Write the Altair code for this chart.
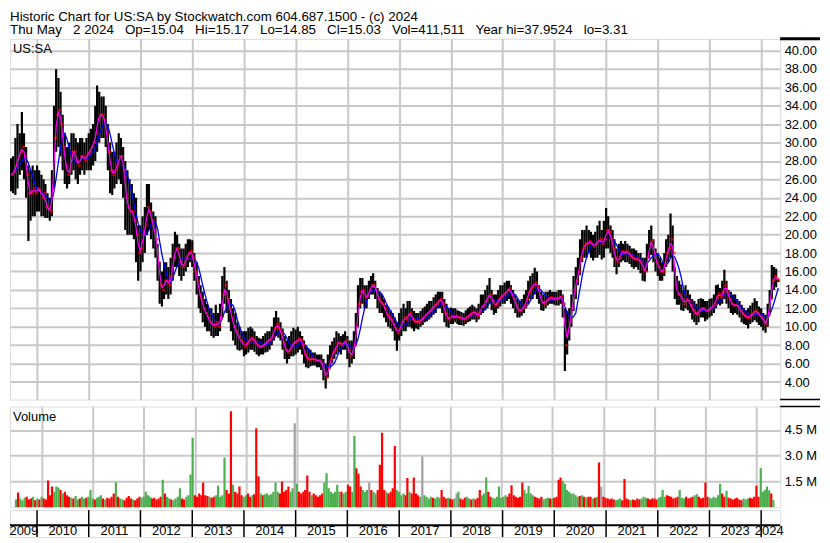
import altair as alt
import pandas as pd

FONT = "Liberation Sans"
GRID = "#c8c8c8"
GREEN = "#4cb050"
RED = "#ff0000"
GREY = "#a0a0a0"

TITLE_LINES = [
    "Historic Chart for US:SA by Stockwatch.com 604.687.1500 - (c) 2024",
    "Thu May\u00a0\u00a0 2 2024\u00a0\u00a0 Op=15.04\u00a0\u00a0 Hi=15.17\u00a0\u00a0 Lo=14.85\u00a0\u00a0 Cl=15.03\u00a0\u00a0 Vol=411,511\u00a0\u00a0 Year hi=37.9524\u00a0\u00a0 lo=3.31",
]

YEAR_GRID = list(range(2010, 2025))
PRICE_TICKS = list(range(4, 42, 2))
VOLUME_TICKS = [1.5, 3.0, 4.5]
YEAR_LABELS = [str(y) for y in range(2009, 2025)]
YEAR_LABEL_DATES = ["2009-09-30"] + [f"{y}-07-02" for y in range(2010, 2024)] + ["2024-02-27"]

# Semi-monthly bars (1st and 16th of each month), Jul 2009 .. May 2024
LOW = [
    # 2009 (Jul-Dec)
    24.7, 24.5, 24.3, 25, 26.5, 27, 26, 24, 19.3, 21.5, 22, 22,
    # 2010
    22.5, 22.5, 22, 22, 21.8, 21.8, 21.5, 22, 25, 29, 29.5, 28.5, 27, 25.5, 25, 25.5, 26.5, 27, 26, 25.5, 26.5, 27, 26.5, 27,
    # 2011
    27, 27, 27.5, 28, 29, 30, 30.5, 30.5, 29.5, 27, 24.5, 24.3, 25, 25.5, 26, 25.5, 24, 20.5, 20, 20, 20, 19.5, 17, 15,
    # 2012
    16, 17, 18, 20, 20.5, 19.5, 18.5, 17.5, 15, 12.5, 12.2, 13, 13.5, 13, 13.5, 15, 16.5, 16.5, 15.5, 15, 15.5, 16, 16.5, 17,
    # 2013
    16.5, 15, 13.5, 12, 11.5, 10.5, 10, 9.5, 9.5, 9, 8.8, 9, 9, 9.5, 11, 12.5, 11.5, 10.5, 9.5, 8.5, 8, 7.5, 7.4, 7.5,
    # 2014
    6.8, 7, 7.2, 7.5, 7.5, 7.3, 7, 6.8, 7, 7, 7.2, 7.3, 7.5, 8, 8.5, 9, 8.8, 8.5, 7.5, 6.5, 6, 6.5, 6.8, 6.8,
    # 2015
    7, 7.2, 7.5, 7, 6, 5.6, 5.5, 5.7, 5.8, 5.8, 5.6, 5.6, 5.3, 4.2, 3.31, 4.5, 5.5, 6, 6.5, 7, 7.3, 7, 7.5, 7.5,
    # 2016
    6.5, 5.6, 6, 6.5, 8, 10, 12, 12.5, 12, 12, 13, 13.5, 13.5, 13, 12, 11.5, 11.5, 11, 10.5, 10, 9.8, 9.5, 8.5, 7.4,
    # 2017
    8.5, 9, 9.5, 9.5, 10, 10, 9.8, 9.5, 9.8, 9.7, 10, 10.2, 10.5, 10.6, 10.8, 11, 11.3, 11.5, 12, 12, 11.5, 10.5, 10, 9.9,
    # 2018
    10.3, 10.3, 10.5, 10.3, 10.2, 10.2, 10.1, 10.3, 10.5, 10.6, 10.8, 10.8, 10.5, 10.8, 11.3, 11.5, 11.8, 12, 12.5, 11.8, 11.3, 11.5, 12, 12.2,
    # 2019
    12.5, 12.5, 12.8, 13, 12.5, 12, 11.5, 11, 11, 11.2, 11.5, 12, 12.5, 13, 13, 13.5, 13, 12.5, 11.8, 11.7, 12, 12.3, 12.5, 12.5,
    # 2020
    12.4, 12.3, 12.3, 12.5, 11, 5.2, 7, 8.5, 10, 11.7, 13, 14.5, 15.6, 17, 17.5, 17.5, 18, 17.5, 17.2, 17.5, 17.5, 17.8, 17.3, 17.5,
    # 2021
    18.5, 18.5, 18, 17.5, 16.5, 15.7, 16.5, 17, 17.2, 17, 17, 16.8, 16.5, 16.3, 16.5, 16.2, 15.8, 15, 14.9, 16, 17.5, 17.8, 17, 16,
    # 2022
    15.5, 15, 15, 15.5, 16.5, 17, 17.5, 16, 13, 12.4, 12.4, 11.8, 11.7, 12, 11.8, 11.5, 10.8, 10.5, 10.2, 10.5, 11, 11, 10.6, 10.8,
    # 2023
    11, 11.2, 11.5, 12, 12.5, 12.3, 12.5, 13, 12.5, 12, 11.5, 11.3, 11.5, 11.3, 11, 10.5, 10.3, 10.2, 9.8, 10.3, 10.5, 10.7, 10.5, 10.2,
    # 2024 (Jan-May)
    10, 9.6, 9.35, 10, 11.5, 13, 14, 14.3, 14.85,
]

HIGH = [
    # 2009
    28.3, 28.5, 30.5, 32, 31, 33.3, 31, 29.5, 27.5, 27, 27.5, 27,
    # 2010
    27.5, 27, 26.5, 26, 25.5, 24.5, 24, 27, 34, 37.95, 37, 35.5, 33, 31, 29.5, 30, 31, 31, 30.5, 30, 30.5, 30.5, 30, 30.5,
    # 2011
    31, 31.5, 32, 34, 36.2, 35.5, 35, 35, 34, 32, 30, 29, 29, 30, 31, 30.5, 29.5, 28, 27, 26, 25.5, 24.5, 24, 21,
    # 2012
    21, 22, 23, 25.5, 25.5, 23.5, 22.5, 22, 19, 17, 16, 17, 17, 16.5, 17.5, 19, 20.3, 20, 19, 18.5, 18.5, 19, 19.5, 19.5,
    # 2013
    19.4, 18, 17, 15.5, 14.5, 13.8, 13, 12.5, 12, 12, 11.5, 12.4, 11.5, 12.5, 15.5, 16.5, 15, 14, 13, 12, 11.5, 10.5, 10, 9.5,
    # 2014
    9.5, 9.5, 9.9, 10, 9.8, 9.5, 9, 8.8, 8.7, 9, 9.3, 9.5, 9.5, 10, 11, 11.7, 11, 10.5, 9.8, 9, 8.5, 9, 9.5, 9.9,
    # 2015
    9.7, 10, 9.5, 9, 8.5, 8, 7.7, 7.5, 7.2, 7.2, 7, 7, 7, 6.5, 6, 7, 8, 8.4, 8.8, 9.5, 9.3, 9, 9.2, 9.5,
    # 2016
    9, 8.5, 8.5, 9.5, 11.5, 14.5, 15.3, 15.3, 14.5, 14.5, 15, 15.5, 15.8, 15, 14.2, 13.8, 13.5, 13, 12.4, 12.2, 11.8, 11.5, 11, 10.5,
    # 2017
    11.5, 12, 12.5, 12, 12.8, 12.8, 12, 11.7, 11.5, 11.5, 11.7, 12, 12.2, 12.5, 12.8, 12.8, 13.2, 13.5, 13.8, 13.8, 13.8, 13, 12.5, 12,
    # 2018
    12.1, 12, 12, 11.8, 11.7, 11.6, 11.5, 11.8, 12, 12.2, 12.4, 12.2, 12, 12.5, 13.5, 13.5, 14, 14.5, 15.3, 14, 13.5, 13.5, 14, 14.5,
    # 2019
    14.5, 14.8, 15, 15, 14.5, 14, 13.5, 13, 12.8, 13, 13.5, 14, 15, 15.5, 15.8, 16.4, 16, 14.5, 13.8, 13.5, 13.8, 13.8, 14, 13.8,
    # 2020
    13.8, 13.8, 14, 14, 13.5, 12, 11.7, 12, 13.5, 15.5, 16.5, 17.5, 19.5, 20.5, 20.5, 21, 20.5, 20.3, 20, 20.3, 21, 21.5, 20.5, 21.5,
    # 2021
    22.9, 22, 21, 20.5, 19.5, 18.5, 19, 19.3, 19, 19.3, 19, 18.8, 18.5, 18.5, 18.3, 18, 18, 17.5, 17.5, 19, 20.5, 21, 19.5, 18.5,
    # 2022
    18, 17.5, 17, 18, 19.5, 20, 22.3, 21, 16.5, 15.5, 15, 14.6, 14, 14.5, 14, 13.5, 13, 12.8, 12.5, 13, 13.1, 13, 12.8, 12.8,
    # 2023
    13, 13.1, 13.5, 14.5, 14.6, 14.2, 15, 16.2, 15, 14, 13.8, 13.5, 13.5, 13, 12.8, 12.4, 12, 11.8, 12, 12.3, 12.6, 13.1, 12.8, 12.2,
    # 2024
    12, 11.5, 11.3, 12.5, 14, 16.7, 16.5, 16.3, 15.17,
]

CLOSE = [
    # 2009
    26.5, 26.8, 27.5, 28.5, 29, 29.5, 28.5, 26.5, 24.5, 24.5, 25, 24.5,
    # 2010
    25, 24.8, 24, 24.5, 23, 22.8, 22.5, 25, 30.5, 33, 33.5, 32, 29.5, 27.5, 26.5, 27, 29, 29, 28, 27.5, 28.5, 28.5, 28, 28.7,
    # 2011
    29, 29.5, 30, 31, 32.5, 33, 33, 32.5, 31, 29, 27, 26.5, 27, 27.5, 28.5, 28.5, 27, 24, 23, 22.5, 22.5, 21.5, 20, 18,
    # 2012
    18.5, 20, 21, 23, 22.5, 21.5, 20.5, 19.5, 17, 14.5, 14, 15, 15, 14.5, 15.5, 17.5, 18.5, 18.5, 17, 16.5, 16.8, 17.5, 18, 18.2,
    # 2013
    17.5, 16, 15, 13.5, 13, 12, 11.5, 11, 10.5, 10.3, 10, 10.5, 10, 11, 13.5, 14.5, 13, 12, 11, 10, 9.5, 9, 8.5, 8.3,
    # 2014
    7.8, 8.2, 8.5, 8.8, 8.6, 8.3, 8, 7.8, 7.9, 8, 8.3, 8.5, 8.6, 9, 9.8, 10.3, 9.8, 9.3, 8.3, 7.5, 7.2, 7.5, 8, 8.3,
    # 2015
    8.4, 8.7, 8.6, 8, 7, 6.6, 6.4, 6.5, 6.5, 6.4, 6.3, 6.3, 6, 5, 4.5, 5.5, 6.5, 7.2, 7.5, 8.2, 8.3, 8, 8.3, 8.5,
    # 2016
    7.5, 6.8, 7.2, 8, 10, 12.5, 13.8, 14, 13.2, 13.3, 14, 14.5, 14.5, 14, 13, 12.7, 12.5, 12, 11.3, 11, 10.8, 10.3, 9.8, 9.3,
    # 2017
    9.8, 10.5, 11, 10.8, 11.3, 11.5, 10.8, 10.5, 10.6, 10.5, 10.8, 11, 11.3, 11.5, 11.7, 12, 12.3, 12.5, 12.8, 13, 12.5, 11.5, 11, 10.8,
    # 2018
    11.2, 11, 11.2, 11, 11, 10.9, 10.8, 11, 11.2, 11.4, 11.6, 11.5, 11.2, 11.5, 12.2, 12.3, 12.8, 13.3, 13.5, 12.8, 12.3, 12.5, 13, 13.2,
    # 2019
    13.5, 13.7, 14, 14.2, 13.5, 13, 12.3, 11.8, 11.7, 12, 12.3, 13, 13.8, 14.2, 14.5, 14.8, 14.3, 13.3, 12.6, 12.5, 12.8, 13, 13.2, 13,
    # 2020
    13.1, 13, 13.2, 13.3, 12.5, 8, 9.5, 10.5, 12, 14, 15, 16, 17.5, 18.5, 19, 19, 19.3, 19, 18.7, 19, 19.3, 19.5, 19, 19.5,
    # 2021
    20.5, 20.3, 19.5, 18.5, 17.5, 17, 17.5, 18.2, 18, 18.2, 18, 17.7, 17.5, 17.3, 17.4, 17.2, 17, 16.2, 16, 17.5, 19, 19.3, 18, 17,
    # 2022
    16.5, 16, 16, 16.8, 18, 18.5, 19.5, 18, 14.5, 13.5, 13.5, 13, 12.5, 13, 12.8, 12.3, 11.8, 11.5, 11.3, 11.8, 12, 12, 11.7, 11.8,
    # 2023
    12, 12.2, 12.5, 13.2, 13.6, 13.2, 13.8, 14.5, 13.8, 13, 12.5, 12.3, 12.4, 12.2, 11.8, 11.4, 11.2, 11, 11, 11.3, 11.5, 11.8, 11.5, 11.2,
    # 2024
    11, 10.5, 10.3, 11.5, 13, 15, 15.5, 15.2, 15.03,
]

# Volume in millions of shares (largest day in each half-month)
VOLUME = [
    # 2009
    0.45, 0.85, 0.5, 0.4, 0.55, 0.6, 0.45, 0.5, 0.6, 0.4, 0.5, 0.45,
    # 2010
    0.6, 0.5, 0.45, 1.55, 0.7, 1.2, 0.9, 1.2, 1.15, 1.0, 0.8, 0.9, 0.7, 0.6, 0.55, 0.5, 0.65, 0.45, 0.5, 0.6, 0.5, 0.55, 0.6, 1.0,
    # 2011
    0.5, 0.45, 0.55, 0.6, 0.7, 0.5, 0.45, 0.55, 0.5, 0.6, 0.8, 1.45, 0.6, 0.5, 0.45, 0.4, 0.55, 0.65, 0.5, 0.45, 0.4, 0.5, 0.6, 0.55,
    # 2012
    0.6, 0.9, 0.7, 0.6, 0.5, 0.55, 0.45, 0.5, 0.6, 1.6, 0.8, 0.6, 0.5, 0.45, 0.4, 0.5, 0.6, 1.1, 0.5, 0.45, 0.6, 0.7, 1.9, 4.05,
    # 2013
    0.7, 0.6, 0.8, 0.7, 1.44, 0.7, 0.65, 0.6, 0.55, 0.6, 0.7, 1.25, 0.6, 0.7, 2.9, 1.0, 0.8, 5.6, 1.3, 0.9, 0.8, 1.2, 0.7, 0.6,
    # 2014
    0.7, 0.8, 0.6, 0.7, 0.75, 4.6, 1.8, 0.8, 0.7, 0.75, 0.8, 0.7, 0.75, 0.9, 1.44, 0.9, 0.8, 1.5, 0.9, 1.0, 1.2, 0.9, 1.1, 4.9,
    # 2015
    1.36, 0.9, 0.8, 0.9, 1.0, 1.85, 0.9, 0.7, 0.8, 0.7, 0.6, 0.7, 0.8, 1.44, 1.98, 1.1, 0.9, 0.8, 0.9, 1.3, 0.9, 0.9, 0.8, 0.9,
    # 2016
    1.3, 1.2, 0.9, 4.15, 2.27, 1.95, 1.2, 1.0, 0.9, 1.0, 1.44, 1.0, 0.9, 0.8, 1.0, 2.47, 4.34, 1.0, 0.9, 0.8, 0.9, 1.1, 3.57, 1.0,
    # 2017
    0.9, 0.7, 0.8, 0.7, 1.7, 0.9, 0.8, 1.73, 0.8, 0.7, 0.6, 2.95, 0.7, 0.6, 0.5, 0.6, 0.55, 0.5, 0.6, 0.55, 1.0, 0.6, 0.5, 0.55,
    # 2018
    0.5, 0.45, 0.5, 0.8, 0.9, 0.5, 0.45, 0.55, 0.6, 0.5, 0.45, 0.5, 0.45, 0.55, 1.0, 0.7, 0.8, 1.73, 0.9, 0.6, 0.55, 0.5, 0.6, 1.2,
    # 2019
    0.55, 0.6, 0.7, 0.6, 0.8, 1.27, 0.7, 0.6, 0.55, 0.6, 1.44, 1.0, 0.8, 1.24, 0.8, 0.7, 0.6, 0.55, 0.5, 0.6, 0.45, 0.5, 0.55, 0.5,
    # 2020
    0.5, 0.55, 0.6, 1.6, 1.73, 1.54, 1.36, 1.0, 0.9, 0.8, 0.8, 0.7, 0.6, 0.65, 0.7, 0.6, 0.55, 0.6, 0.6, 0.5, 0.55, 0.6, 2.6, 1.2,
    # 2021
    0.6, 0.55, 0.5, 0.45, 0.5, 0.45, 0.4, 0.45, 0.5, 0.4, 1.64, 0.5, 0.45, 0.4, 0.45, 0.4, 0.5, 0.45, 0.5, 0.6, 0.55, 0.5, 0.45, 0.5,
    # 2022
    0.5, 0.45, 0.55, 0.6, 1.0, 0.6, 0.7, 0.65, 0.6, 0.5, 0.55, 0.6, 1.0, 0.55, 0.5, 0.6, 0.5, 0.55, 0.6, 0.7, 0.75, 0.6, 0.5, 0.55,
    # 2023
    1.44, 0.6, 0.55, 0.5, 0.6, 0.55, 0.7, 1.36, 0.8, 0.6, 0.96, 0.55, 0.5, 0.45, 0.5, 0.55, 0.45, 0.4, 0.5, 0.45, 0.5, 0.55, 0.5, 0.6,
    # 2024
    1.25, 0.6, 2.27, 0.9, 1.0, 1.2, 0.98, 0.8, 0.41,
]

# g = up, r = down, n = unchanged
VOLUME_DIR = list(
    "grgggrrrgrgr"
    "grrrrrgggrgrrrgrggrggrgg"
    "grgggrgrrrrgrggrrrrgrrrg"
    "ggggrrrrrgrggrggggrrgggg"
    "rrrrrrrgrrgggggrrrgrrrrg"
    "grrgrrrgrgggggggrrrrrggn"
    "grrrrrrgrrrrrggggggggrgg"
    "rrggrrrgggnrggrrrrgrrrrg"
    "gggrrgrrrrgnggggrgggrrrg"
    "rrgngrrrggrgrrrgggrrgggg"
    "gggrrrrrrrrgggggrrrrgggr"
    "grrrrggggggggrgrgrrgrgrn"
    "rrrrrrgggrrrrgrrrrgggrrr"
    "rrggggrrrrrrgggrrrrggrrr"
    "rrggggggrrgrrrrrrrgggrrr"
    "rrgggggrg"
)

n = len(CLOSE)
assert len(LOW) == n and len(HIGH) == n and len(VOLUME) == n and len(VOLUME_DIR) == n, (
    len(LOW), len(HIGH), len(CLOSE), len(VOLUME), len(VOLUME_DIR))

dates = []
yy, mm = 2009, 7
while len(dates) < n:
    for dd in (1, 16):
        if len(dates) < n:
            dates.append(f"{yy}-{mm:02d}-{dd:02d}")
    mm += 1
    if mm > 12:
        mm = 1
        yy += 1

df = pd.DataFrame({"date": dates, "lo": LOW, "hi": HIGH, "cl": CLOSE,
                   "vol": VOLUME, "dir": VOLUME_DIR})

# ---------- shared scales / axes ----------
x_scale = alt.Scale(domain=[alt.DateTime(year=2009, month=6, date=24),
                            alt.DateTime(year=2024, month=5, date=14)])
year_starts = [alt.DateTime(year=y, month=1, date=1) for y in YEAR_GRID]
x_grid_axis = alt.Axis(values=year_starts, labels=False, ticks=False, domain=False,
                       grid=True, gridColor=GRID, gridWidth=2, title=None)


def X(field="date:T"):
    return alt.X(field, scale=x_scale, axis=x_grid_axis)


W = 773
PH = 362
price_scale = alt.Scale(domain=[2.1, 41.25], nice=False, zero=False)
price_axis = alt.Axis(orient="right", values=PRICE_TICKS, format=".2f", grid=True,
                      gridColor=GRID, gridWidth=2, ticks=False, domain=False,
                      labelFont=FONT, labelFontSize=13, labelColor="black",
                      labelPadding=4, title=None)


def PY(field):
    return alt.Y(field, scale=price_scale, axis=price_axis)


base = alt.Chart(df)
one = pd.DataFrame({"k": [0]})

bars = base.mark_rule(color="black", strokeWidth=2.2, clip=True).encode(
    x=X(), y=PY("lo:Q"), y2="hi:Q")
closes = base.mark_tick(color=RED, orient="horizontal", size=3, thickness=2.5,
                        xOffset=1.5, clip=True).encode(x=X(), y=PY("cl:Q"))
ma_short = base.transform_window(
    ma_s="mean(cl)", frame=[-1, 0], sort=[alt.SortField("date")]
).mark_line(color="#ff00ff", strokeWidth=1.2, clip=True).encode(x=X(), y=PY("ma_s:Q"))
ma_long = base.transform_window(
    ma_l="mean(cl)", frame=[-5, 0], sort=[alt.SortField("date")]
).mark_line(color="#0000ff", strokeWidth=1.3, clip=True).encode(x=X(), y=PY("ma_l:Q"))
sym_label = alt.Chart(pd.DataFrame({"t": ["US:SA"]})).mark_text(
    align="left", baseline="top", font=FONT, fontSize=13, color="black"
).encode(text="t:N", x=alt.value(3), y=alt.value(4))
# frame lines continuing across the price-label column
frame_top = alt.Chart(one).mark_rule(color="black", strokeWidth=3).encode(
    x=alt.value(W), x2=alt.value(W + 40), y=alt.value(0))
frame_bottom = alt.Chart(one).mark_rule(color="black", strokeWidth=1.5).encode(
    x=alt.value(W), x2=alt.value(W + 40), y=alt.value(PH))

price = alt.layer(bars, ma_long, closes, ma_short, sym_label, frame_top, frame_bottom).properties(
    width=W, height=PH)

vol_axis = alt.Axis(orient="right", values=VOLUME_TICKS,
                    labelExpr="format(datum.value, '.1f') + ' M'", grid=True,
                    gridColor=GRID, gridWidth=2, ticks=False, domain=False,
                    labelFont=FONT, labelFontSize=13, labelColor="black",
                    labelPadding=4, title=None)
vol_bars = base.mark_bar(width=2.2, clip=True).encode(
    x=X(),
    y=alt.Y("vol:Q", scale=alt.Scale(domain=[0, 5.87], nice=False), axis=vol_axis),
    color=alt.Color("dir:N", scale=alt.Scale(domain=["g", "r", "n"], range=[GREEN, RED, GREY]),
                    legend=None),
)
vol_label = alt.Chart(pd.DataFrame({"t": ["Volume"]})).mark_text(
    align="left", baseline="top", font=FONT, fontSize=13, color="black"
).encode(text="t:N", x=alt.value(3), y=alt.value(5))
vol_frame_top = alt.Chart(one).mark_rule(color="black", strokeWidth=1.5).encode(
    x=alt.value(W), x2=alt.value(W + 40), y=alt.value(0))
volume = alt.layer(vol_bars, vol_label, vol_frame_top).properties(width=W, height=101)

# ---------- bottom date band ----------
row_scale = alt.Scale(domain=[0, 1])
sep_df = pd.DataFrame({"d": [f"{y}-01-01" for y in YEAR_GRID]})
lab_df = pd.DataFrame({"d": YEAR_LABEL_DATES, "label": YEAR_LABELS})
separators = alt.Chart(sep_df).mark_rule(color="black", strokeWidth=1.5).encode(
    x=alt.X("d:T", scale=x_scale, axis=None))
mid_line = alt.Chart(pd.DataFrame({"v": [0.44]})).mark_rule(color="black", strokeWidth=2).encode(
    y=alt.Y("v:Q", scale=row_scale, axis=None))
year_text = alt.Chart(lab_df).mark_text(font=FONT, fontSize=13, color="black", baseline="middle").encode(
    x=alt.X("d:T", scale=x_scale, axis=None),
    y=alt.Y(datum=0.22, scale=row_scale, axis=None),
    text="label:N")
date_band = alt.layer(separators, mid_line, year_text).properties(width=W, height=27)

chart = alt.vconcat(
    price,
    alt.vconcat(volume, date_band, spacing=0),
    spacing=3,
).properties(
    padding=0,
    title=alt.TitleParams(text=TITLE_LINES, anchor="start", frame="group", font=FONT,
                          fontSize=13.4, fontWeight="normal", color="black",
                          lineHeight=14, offset=0),
).configure_view(stroke="black", strokeWidth=2).configure(font=FONT)

chart.save("out.html", embed_options={"renderer": "svg", "actions": False})
